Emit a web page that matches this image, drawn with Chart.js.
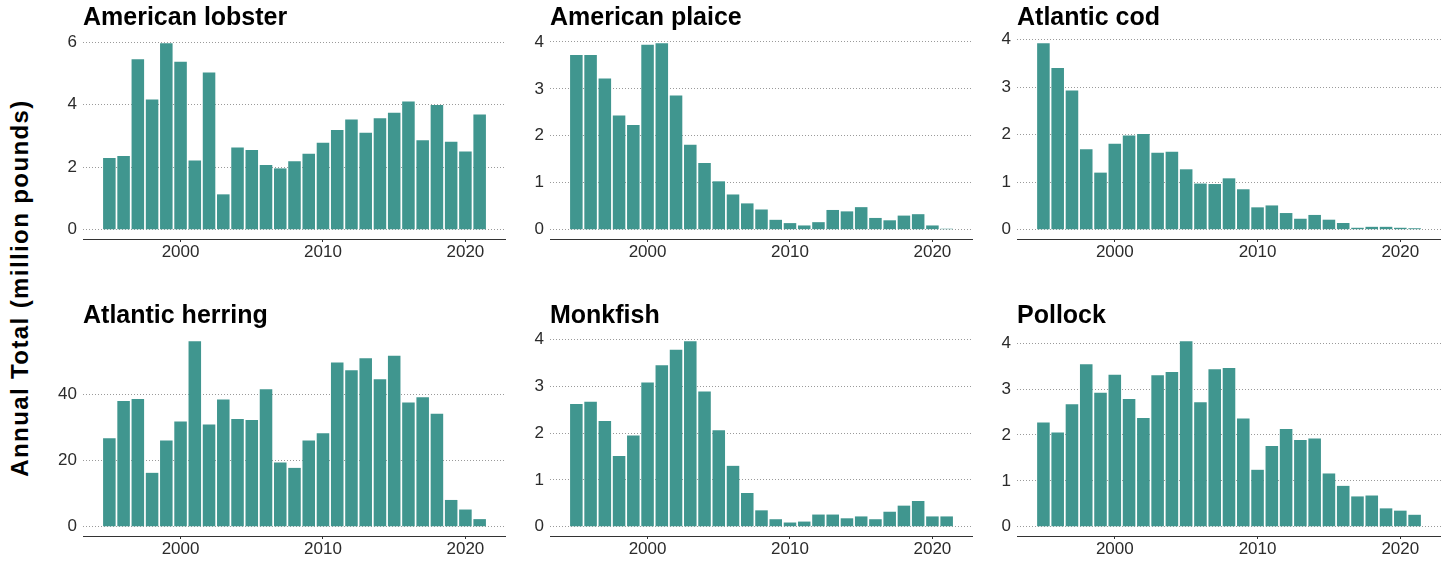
<!DOCTYPE html>
<html>
<head>
<meta charset="utf-8">
<script src="https://cdn.jsdelivr.net/npm/chart.js@4.4.0/dist/chart.umd.min.js"></script>
<style>
  body { margin: 0; background: #fff; }
  #wrap { position: relative; width: 1450px; height: 561px; overflow: hidden; }
  .panel { position: absolute; }
  #ytitle {
    position: absolute; left: 20px; top: 288px;
    transform: translate(-50%, -50%) rotate(-90deg);
    white-space: nowrap;
    font: bold 24px "Liberation Sans", Arial, sans-serif;
    letter-spacing: 1.4px;
    color: #000;
  }
</style>
</head>
<body>
<div id="wrap">
  <div id="ytitle">Annual Total (million pounds)</div>
</div>
<script>
const years = [1995, 1996, 1997, 1998, 1999, 2000, 2001, 2002, 2003, 2004, 2005, 2006, 2007, 2008,
  2009, 2010, 2011, 2012, 2013, 2014, 2015, 2016, 2017, 2018, 2019, 2020, 2021];
const xTicks = [2000, 2010, 2020];

const species = ['American lobster', 'American plaice', 'Atlantic cod', 'Atlantic herring', 'Monkfish', 'Pollock'];

const lobster = [2.29, 2.36, 5.45, 4.16, 5.96, 5.37, 2.21, 5.03, 1.13, 2.63, 2.55, 2.07, 1.96, 2.19,
  2.43, 2.78, 3.19, 3.52, 3.10, 3.56, 3.74, 4.10, 2.86, 3.99, 2.81, 2.50, 3.68];
const plaice = [3.72, 3.72, 3.22, 2.43, 2.23, 3.94, 3.97, 2.86, 1.81, 1.42, 1.03, 0.75, 0.56, 0.43,
  0.21, 0.14, 0.09, 0.16, 0.42, 0.39, 0.48, 0.25, 0.20, 0.30, 0.33, 0.09, 0.02];
const cod = [3.92, 3.40, 2.93, 1.69, 1.20, 1.81, 1.98, 2.01, 1.62, 1.64, 1.27, 0.97, 0.96, 1.08,
  0.85, 0.47, 0.51, 0.35, 0.23, 0.31, 0.21, 0.14, 0.04, 0.06, 0.06, 0.04, 0.03];
const herring = [26.8, 38.0, 38.6, 16.3, 26.1, 31.8, 56.1, 30.9, 38.5, 32.6, 32.3, 41.6, 19.4, 17.8,
  26.1, 28.3, 49.7, 47.3, 51.0, 44.6, 51.7, 37.6, 39.2, 34.2, 8.1, 5.2, 2.3];
const monkfish = [2.62, 2.67, 2.26, 1.51, 1.95, 3.08, 3.45, 3.78, 3.96, 2.89, 2.06, 1.30, 0.72, 0.35,
  0.16, 0.09, 0.11, 0.26, 0.26, 0.18, 0.22, 0.16, 0.32, 0.45, 0.55, 0.22, 0.22];
const pollock = [2.27, 2.05, 2.67, 3.54, 2.92, 3.31, 2.78, 2.37, 3.30, 3.37, 4.04, 2.71, 3.43, 3.46,
  2.36, 1.24, 1.76, 2.13, 1.89, 1.92, 1.16, 0.89, 0.66, 0.68, 0.40, 0.35, 0.26];

const series = [lobster, plaice, cod, herring, monkfish, pollock];
const yTicks = [
  [0, 2, 4, 6],
  [0, 1, 2, 3, 4],
  [0, 1, 2, 3, 4],
  [0, 20, 40],
  [0, 1, 2, 3, 4],
  [0, 1, 2, 3, 4]
];

// panel boxes (canvas placement)
const colLeft = [43, 510, 977];
const colWidth = [463, 463, 464];
const rowTop = [0, 298];
const rowHeight = [264, 263];

const barColor = '#40968f';
const textColor = '#2b2b2b';
const fontFamily = '"Liberation Sans", Arial, sans-serif';

const wrap = document.getElementById('wrap');

species.forEach(function(name, i) {
  const col = i % 3, row = Math.floor(i / 3);
  const box = document.createElement('div');
  box.className = 'panel';
  box.style.left = colLeft[col] + 'px';
  box.style.top = rowTop[row] + 'px';
  const canvas = document.createElement('canvas');
  canvas.width = colWidth[col];
  canvas.height = rowHeight[row];
  canvas.style.width = colWidth[col] + 'px';
  canvas.style.height = rowHeight[row] + 'px';
  box.appendChild(canvas);
  wrap.appendChild(box);

  const vals = series[i];
  const maxVal = Math.max.apply(null, vals);

  new Chart(canvas.getContext('2d'), {
    type: 'bar',
    data: {
      datasets: [{
        label: name,
        data: years.map(function(y, k) { return { x: y, y: vals[k] }; }),
        backgroundColor: barColor,
        borderWidth: 0,
        categoryPercentage: 1.0,
        barPercentage: 0.88
      }]
    },
    options: {
      responsive: false,
      animation: false,
      layout: { padding: 0 },
      plugins: {
        legend: { display: false },
        tooltip: { enabled: false },
        title: {
          display: true,
          text: name,
          align: 'start',
          fullSize: false,
          color: '#000',
          font: { family: fontFamily, size: 25, weight: 'bold', lineHeight: 1.2 },
          padding: { top: 3, bottom: 1 }
        }
      },
      scales: {
        x: {
          type: 'linear',
          offset: false,
          min: 1993.15,
          max: 2022.85,
          afterBuildTicks: function(scale) {
            scale.ticks = xTicks.map(function(v) { return { value: v }; });
          },
          afterFit: function(scale) { scale.height = 25; },
          grid: { display: true, offset: false, drawOnChartArea: false, drawTicks: true, tickLength: 3, color: '#333' },
          border: { display: true, color: '#333', width: 1 },
          ticks: {
            padding: 0,
            color: textColor,
            font: { family: fontFamily, size: 17 },
            maxRotation: 0,
            callback: function(v) { return String(v); }
          }
        },
        y: {
          type: 'linear',
          min: -0.05 * maxVal,
          max: 1.05 * maxVal,
          afterBuildTicks: function(scale) {
            scale.ticks = yTicks[i].map(function(v) { return { value: v }; });
          },
          afterFit: function(scale) { scale.width = 40; },
          grid: { color: '#9a9a9a', lineWidth: 1, drawTicks: false },
          border: { display: false, dash: [1, 2] },
          ticks: {
            padding: 6,
            color: textColor,
            font: { family: fontFamily, size: 17 },
            callback: function(v) { return String(v); }
          }
        }
      }
    }
  });
});
</script>
</body>
</html>
